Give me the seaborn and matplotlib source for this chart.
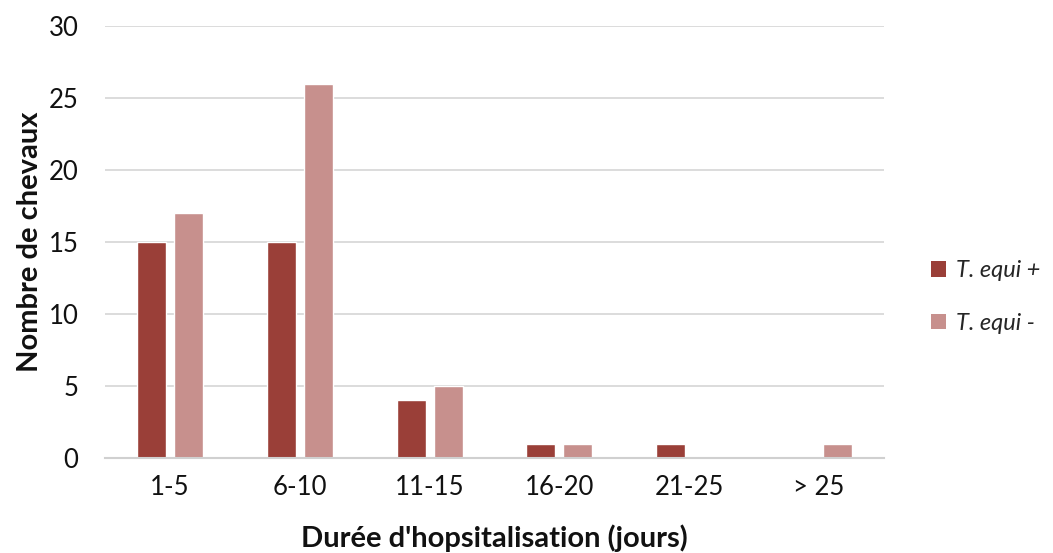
import matplotlib
matplotlib.use("Agg")
import matplotlib.pyplot as plt
import seaborn as sns
import pandas as pd
from matplotlib.patches import Patch

categories = ["1-5", "6-10", "11-15", "16-20", "21-25", "> 25"]
positive = [15, 15, 4, 1, 1, 0]
negative = [17, 26, 5, 1, 0, 1]
series_names = ["T. equi +", "T. equi -"]
yticks = [0, 5, 10, 15, 20, 25, 30]

df = pd.DataFrame({
    "duree": categories * 2,
    "n": positive + negative,
    "groupe": [series_names[0]] * len(categories) + [series_names[1]] * len(categories),
})

sns.set_theme(style="white")
plt.rcParams["font.family"] = ["Lato", "DejaVu Sans"]

palette = {series_names[0]: "#9A3F38", series_names[1]: "#C7908D"}

fig = plt.figure(figsize=(10.53, 5.53), dpi=100)
ax = fig.add_axes([0.0997, 0.1718, 0.7398, 0.7812])

sns.barplot(data=df, x="duree", y="n", hue="groupe", order=categories,
            hue_order=series_names, palette=palette, width=0.57, gap=0.22,
            saturation=1, legend=False, ax=ax)

ax.set_ylim(0, 30)
ax.set_xlim(-0.5, len(categories) - 0.5)
ax.set_yticks(yticks)
ax.yaxis.grid(True, color="#D9D9D9", linewidth=1.3)
ax.set_axisbelow(True)
for s in ["left", "right", "top"]:
    ax.spines[s].set_visible(False)
ax.spines["bottom"].set_color("#D0D0D0")
ax.spines["bottom"].set_linewidth(1.5)
ax.tick_params(axis="both", length=0, labelsize=18.5, colors="#111111")
ax.tick_params(axis="y", pad=19)
ax.tick_params(axis="x", pad=12)

ax.set_xlabel("Durée d'hopsitalisation (jours)", fontsize=21, fontweight="bold",
              labelpad=18, color="#111111")
ax.set_ylabel("Nombre de chevaux", fontsize=21, fontweight="bold",
              labelpad=4, color="#111111")

handles = [Patch(facecolor=palette[n], edgecolor="none") for n in series_names]
leg = fig.legend(handles, series_names, loc="center left",
                 bbox_to_anchor=(0.884, 0.463), frameon=False,
                 borderpad=0, borderaxespad=0,
                 handlelength=0.65, handleheight=0.65, handletextpad=0.4,
                 labelspacing=1.35, prop={"size": 17, "style": "italic"})

fig.savefig("out.png", dpi=100)
